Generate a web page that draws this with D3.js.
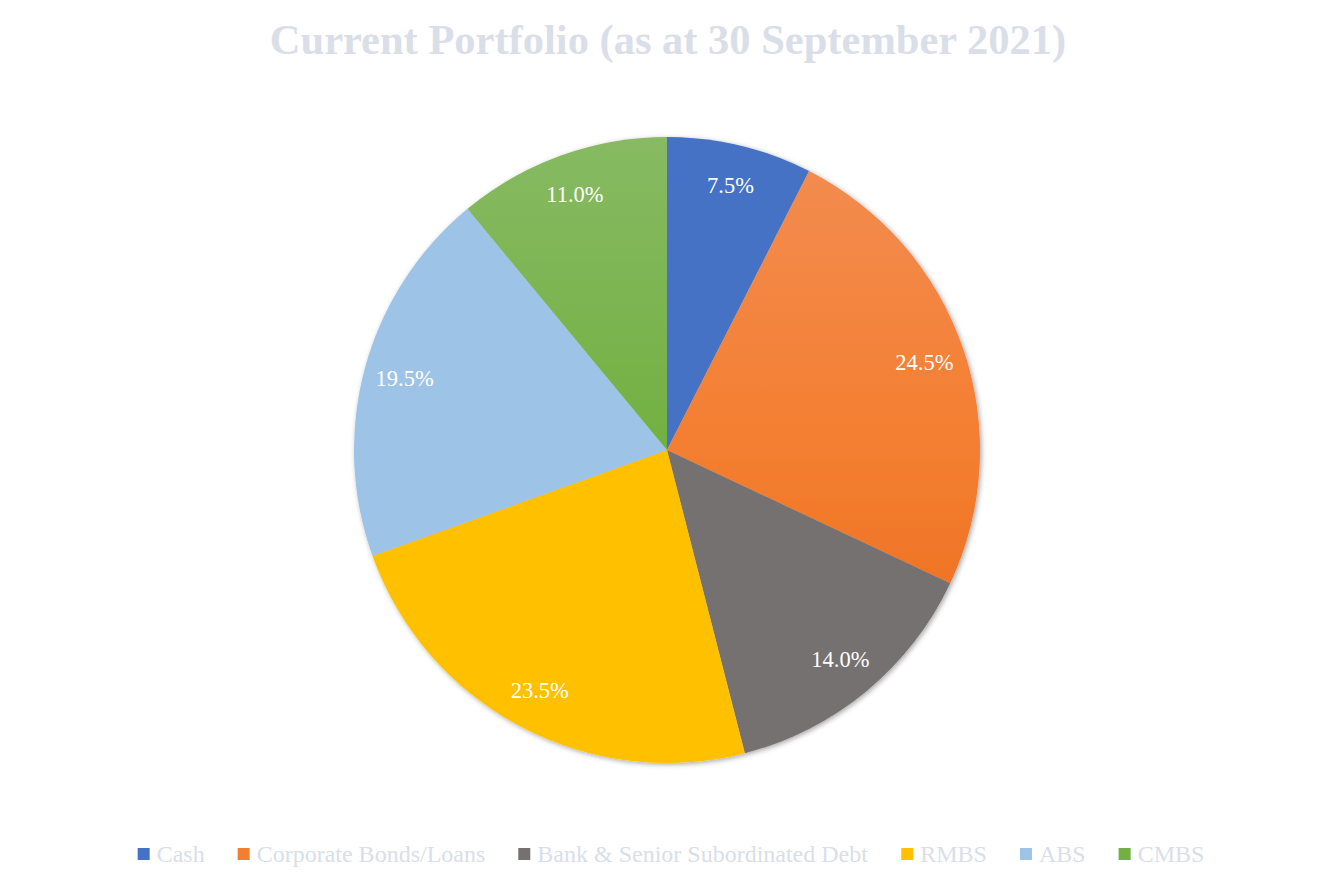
<!DOCTYPE html>
<html>
<head>
<meta charset="utf-8">
<script src="https://cdn.jsdelivr.net/npm/d3@7"></script>
<style>
  body { margin: 0; background: #fff; }
  svg { display: block; }
</style>
</head>
<body>
<svg id="chart" width="1334" height="885"></svg>
<script>
const categories = ["Cash", "Corporate Bonds/Loans", "Bank & Senior Subordinated Debt", "RMBS", "ABS", "CMBS"];
const values = [7.5, 24.5, 14.0, 23.5, 19.5, 11.0];
// top / middle / bottom tones for each slice's vertical gradient
const gradTop = ["#4472C4", "#F28D52", "#767171", "#FFC000", "#9DC3E6", "#87BA63"];
const gradMid = ["#4472C4", "#F47E30", "#767171", "#FFC000", "#9DC3E6", "#72B041"];
const gradBottom = ["#4472C4", "#E8691A", "#767171", "#FFC000", "#9DC3E6", "#62A534"];
const title = "Current Portfolio (as at 30 September 2021)";

const width = 1334, height = 885;
const cx = 667, cy = 450, radius = 313;
const font = "'Liberation Serif', 'DejaVu Serif', serif";
const textColor = "#D9DEE8";

const data = categories.map((c, i) => ({ name: c, value: values[i], i }));

const svg = d3.select("#chart");
const defs = svg.append("defs");

const shadow = defs.append("filter").attr("id", "shadow")
    .attr("x", "-10%").attr("y", "-10%").attr("width", "120%").attr("height", "120%");
shadow.append("feDropShadow")
    .attr("dx", 1.5).attr("dy", 1.5).attr("stdDeviation", 2.5)
    .attr("flood-color", "#000").attr("flood-opacity", 0.35);

data.forEach(d => {
    const g = defs.append("linearGradient").attr("id", "grad" + d.i)
        .attr("gradientUnits", "userSpaceOnUse")
        .attr("x1", 0).attr("y1", -radius).attr("x2", 0).attr("y2", radius);
    g.append("stop").attr("offset", "0%").attr("stop-color", gradTop[d.i]);
    g.append("stop").attr("offset", "50%").attr("stop-color", gradMid[d.i]);
    g.append("stop").attr("offset", "100%").attr("stop-color", gradBottom[d.i]);
});

// title
svg.append("text")
    .attr("x", 668).attr("y", 54)
    .attr("text-anchor", "middle")
    .style("font-family", font)
    .style("font-weight", "bold")
    .style("font-size", "42.5px")
    .style("fill", textColor)
    .text(title);

const pie = d3.pie().sort(null).value(d => d.value);
const arc = d3.arc().innerRadius(0).outerRadius(radius);
const labelArc = d3.arc().innerRadius(272).outerRadius(272);

const g = svg.append("g").attr("transform", `translate(${cx},${cy})`);

g.append("g").attr("filter", "url(#shadow)")
    .selectAll("path")
    .data(pie(data))
    .enter()
    .append("path")
    .attr("d", arc)
    .attr("fill", d => `url(#grad${d.data.i})`);

g.selectAll("text.label")
    .data(pie(data))
    .enter()
    .append("text")
    .attr("class", "label")
    .attr("transform", d => "translate(" + labelArc.centroid(d) + ")")
    .attr("text-anchor", "middle")
    .attr("dy", "0.35em")
    .style("font-family", font)
    .style("font-size", "22.5px")
    .style("fill", "#fff")
    .text(d => d.value.toFixed(1) + "%");

// legend
const legend = svg.append("g").attr("transform", "translate(0,854)");
const items = legend.selectAll("g")
    .data(data)
    .enter()
    .append("g");
items.append("rect")
    .attr("width", 12).attr("height", 12)
    .attr("y", -6)
    .attr("fill", d => `url(#grad${d.i})`);
items.append("text")
    .attr("x", 19).attr("dy", "0.35em")
    .style("font-family", font)
    .style("font-size", "24px")
    .style("fill", textColor)
    .text(d => d.name);

const gap = 33;
const widths = [];
items.each(function () { widths.push(this.getBBox().width); });
const total = d3.sum(widths) + gap * (widths.length - 1);
let x = 671 - total / 2;
items.attr("transform", (d, i) => {
    const t = `translate(${x},0)`;
    x += widths[i] + gap;
    return t;
});
</script>
</body>
</html>
